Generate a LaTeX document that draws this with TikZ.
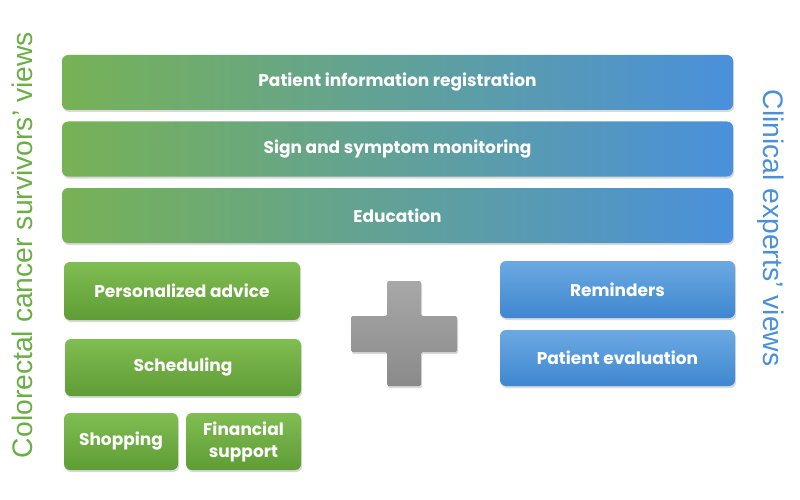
\documentclass[tikz,border=0pt]{standalone}
\usepackage{fontspec}
\usepackage{xcolor}
\usepackage{tikz}
\usetikzlibrary{positioning}
\usetikzlibrary{shadows}

\newfontfamily\boxfont{Poppins}
\newfontfamily\sidefont{Liberation Sans}

\definecolor{grnTop}{HTML}{80BD52}
\definecolor{grnBot}{HTML}{5E9C35}
\definecolor{bluTop}{HTML}{6CA9E2}
\definecolor{bluBot}{HTML}{3E87CF}
\definecolor{barL}{HTML}{77B255}
\definecolor{barM}{HTML}{6AAAA6}
\definecolor{barR}{HTML}{4A90DC}
\definecolor{grnText}{HTML}{6AAE45}
\definecolor{bluText}{HTML}{4A90D9}
\definecolor{plusTop}{HTML}{A8A8A8}
\definecolor{plusBot}{HTML}{8A8A8A}

\begin{document}
\begin{tikzpicture}
  [
    x=1pt, y=-1pt,
    box/.style={
      rounded corners=6pt,
      inner sep=0pt,
      align=center,
      text=white,
      font=\boxfont\bfseries\fontsize{17}{20}\selectfont,
      drop shadow={shadow xshift=1pt, shadow yshift=-2pt, opacity=0.3}
    },
    bar/.style={box, left color=barL, middle color=barM, right color=barR,
      minimum width=671pt, minimum height=55pt},
    grn/.style={box, top color=grnTop, bottom color=grnBot},
    blu/.style={box, top color=bluTop, bottom color=bluBot},
    side/.style={font=\sidefont\fontsize{28.3}{32}\selectfont}
  ]
  \useasboundingbox (0,0) rectangle (800,500);

  % common bars
  \node (reg) at (397.5,82.5) [bar] {Patient information registration};
  \node (sign) at (397.5,149) [bar] {Sign and symptom monitoring};
  \node (edu) at (397.5,215.5) [bar] {Education};

  % survivors only
  \node (advice) at (182,291) [grn, minimum width=236pt, minimum height=58pt] {Personalized advice};
  \node (sched) at (183,367.5) [grn, minimum width=236pt, minimum height=57pt] {Scheduling};
  \node (shop) at (121,441.5) [grn, minimum width=114pt, minimum height=57pt] {Shopping};
  \node (fin) at (243.5,441.5) [grn, minimum width=115pt, minimum height=57pt,
    font=\boxfont\bfseries\fontsize{17}{22}\selectfont] {Financial\\support};

  % experts only
  \node (remind) at (617.5,289.5) [blu, minimum width=235pt, minimum height=57pt] {Reminders};
  \node (eval) at (617.5,358) [blu, minimum width=235pt, minimum height=56pt] {Patient evaluation};

  % plus sign
  \shade [top color=plusTop, bottom color=plusBot, rounded corners=1.5pt,
    drop shadow={shadow xshift=1pt, shadow yshift=-2pt, opacity=0.3}]
    (387,281) -- (421,281) -- (421,316) -- (457,316) -- (457,352) -- (421,352)
    -- (421,386) -- (387,386) -- (387,352) -- (351,352) -- (351,316) -- (387,316) -- cycle;

  % side labels
  \node (survivors) at (22,245) [side, text=grnText, rotate=90] {Colorectal cancer survivors’ views};
  \node (experts) at (771,228) [side, text=bluText, rotate=-90] {Clinical experts’ views};
\end{tikzpicture}
\end{document}
